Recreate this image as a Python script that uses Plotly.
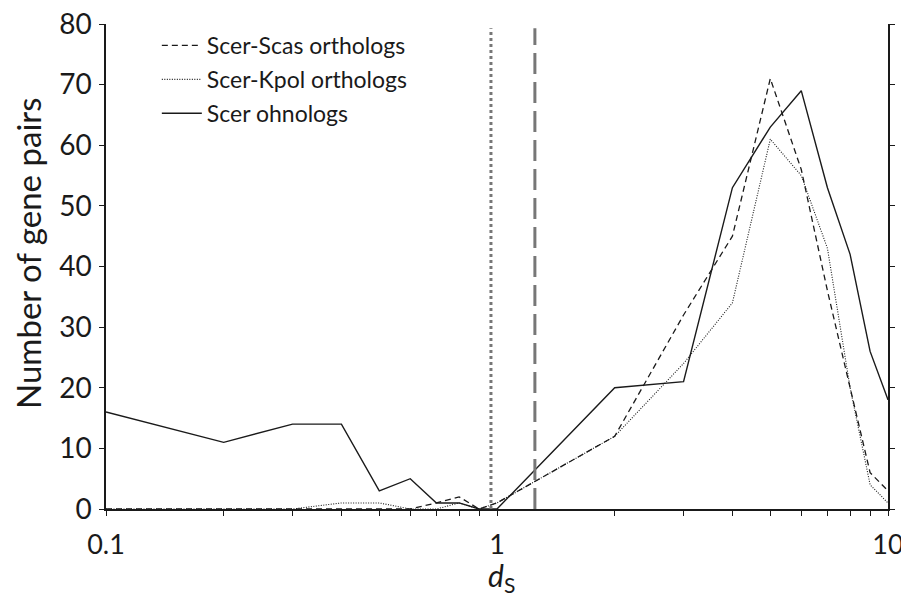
import plotly.graph_objects as go

ds = [0.1, 0.2, 0.3, 0.4, 0.5, 0.6, 0.7, 0.8, 0.9, 1, 2, 3, 4, 5, 6, 7, 8, 9, 10]
scas = [0, 0, 0, 0, 0, 0, 1, 2, 0, 1, 12, 32, 45, 71, 56, 36, 20, 6, 3]
kpol = [0, 0, 0, 1, 1, 0, 0, 1, 0, 1, 12, 24, 34, 61, 55, 43, 20, 4, 1]
ohno = [16, 11, 14, 14, 3, 5, 1, 1, 0, 0, 20, 21, 53, 63, 69, 53, 42, 26, 18]

vline_dotted = 0.965
vline_dashed = 1.25

x_tickvals = [0.1, 0.2, 0.3, 0.4, 0.5, 0.6, 0.7, 0.8, 0.9, 1, 2, 3, 4, 5, 6, 7, 8, 9, 10]
x_ticktext = ["0.1", "", "", "", "", "", "", "", "", "1", "", "", "", "", "", "", "", "", "10"]
y_tickvals = [0, 10, 20, 30, 40, 50, 60, 70, 80]

FONT = "Lato"
INK = "#1a1a1a"

fig = go.Figure()
fig.add_trace(go.Scatter(x=ds, y=scas, mode="lines", name="Scer-Scas orthologs",
                         legendgroup="a",
                         line=dict(color=INK, width=1.3, dash="6px,4px")))
fig.add_trace(go.Scatter(x=ds, y=kpol, mode="lines", name="Scer-Kpol orthologs",
                         legendgroup="b",
                         line=dict(color=INK, width=1.1, dash="1px,1.5px")))
fig.add_trace(go.Scatter(x=ds, y=ohno, mode="lines", name="Scer ohnologs",
                         legendgroup="c",
                         line=dict(color=INK, width=1.4)))

fig.add_shape(type="line", xref="x", yref="y", x0=vline_dotted, x1=vline_dotted,
              y0=0, y1=79.3, line=dict(color="#777777", width=3, dash="3px,3px"))
fig.add_shape(type="line", xref="x", yref="y", x0=vline_dashed, x1=vline_dashed,
              y0=0, y1=79.3, line=dict(color="#777777", width=3, dash="21px,8px"))

# axis titles
fig.add_annotation(text="Number of gene pairs", xref="paper", yref="paper",
                   x=-0.099, y=0.527, xanchor="center", yanchor="middle",
                   textangle=-90, showarrow=False,
                   font=dict(size=33, family=FONT, color=INK))
fig.add_annotation(text="<i>d</i><sub>S</sub>", xref="paper", yref="paper",
                   x=0.506, y=-0.141, xanchor="center", yanchor="middle",
                   showarrow=False, font=dict(size=30, family=FONT, color=INK))

fig.update_layout(
    template="none",
    width=901, height=594,
    paper_bgcolor="white", plot_bgcolor="white",
    margin=dict(l=98, r=21, t=16, b=93, autoexpand=False),
    font=dict(family=FONT, size=23, color=INK),
    showlegend=True,
    legend=dict(x=0.065, y=1.0, xanchor="left", yanchor="top",
                bgcolor="rgba(0,0,0,0)", font=dict(size=23, family=FONT, color=INK),
                tracegroupgap=1, itemwidth=40),
    xaxis=dict(type="log", range=[-1, 1], tickvals=x_tickvals, ticktext=x_ticktext,
               ticks="outside", ticklen=5, tickwidth=1.2, tickcolor=INK,
               showline=True, linecolor=INK, linewidth=1.5, showgrid=False,
               zeroline=False, automargin=False, ticklabelstandoff=6,
               ticklabeloverflow="allow",
               tickfont=dict(size=27, family=FONT)),
    yaxis=dict(range=[0, 80], tickvals=y_tickvals, ticks="outside", ticklen=5,
               tickwidth=1.2, tickcolor=INK, showline=True, linecolor=INK,
               linewidth=1.5, mirror="ticks", showgrid=False, zeroline=False,
               automargin=False, ticklabelstandoff=2, ticklabeloverflow="allow",
               tickfont=dict(size=28, family=FONT)),
)

fig.write_html("out.html")
